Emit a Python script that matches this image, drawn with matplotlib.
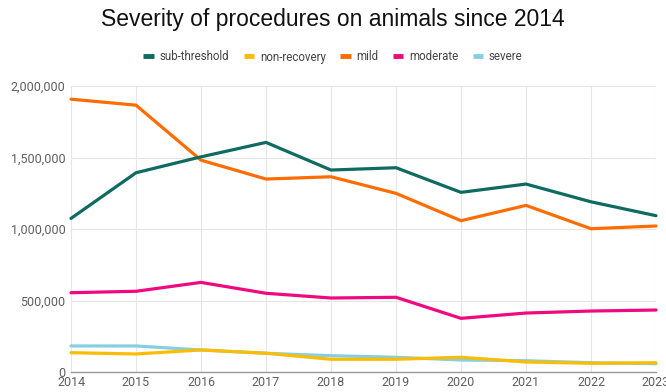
import matplotlib
matplotlib.use("Agg")
import matplotlib.pyplot as plt
from matplotlib.ticker import FuncFormatter

# Data
years = [2014, 2015, 2016, 2017, 2018, 2019, 2020, 2021, 2022, 2023]
sub_threshold = [1075000, 1394000, 1505000, 1606000, 1413000, 1429000, 1257000, 1315000, 1191000, 1094000]
non_recovery = [137000, 128000, 156000, 133000, 91000, 91000, 105000, 72000, 63000, 67000]
mild = [1908000, 1866000, 1482000, 1350000, 1366000, 1250000, 1059000, 1166000, 1003000, 1022000]
moderate = [556000, 566000, 628000, 552000, 519000, 524000, 377000, 414000, 428000, 435000]
severe = [184000, 184000, 156000, 133000, 116000, 105000, 86000, 81000, 67000, 60000]

series = [
    ("sub-threshold", sub_threshold, "#0f6b61"),
    ("non-recovery", non_recovery, "#fbbc04"),
    ("mild", mild, "#ff6d01"),
    ("moderate", moderate, "#f0087f"),
    ("severe", severe, "#84d0e2"),
]
yticks = [0, 500000, 1000000, 1500000, 2000000]

plt.rcParams['font.family'] = ['Roboto', 'DejaVu Sans']

fig = plt.figure(figsize=(6.66, 3.92), dpi=100)
ax = fig.add_axes([71 / 666, (392 - 372.3) / 392, (656 - 71) / 666, (372.3 - 86) / 392])

# draw in reverse so sub-threshold sits on top like the original
for name, vals, col in reversed(series):
    ax.plot(years, vals, color=col, lw=2.3, label=name, solid_capstyle='round',
            solid_joinstyle='round', clip_on=False)

ax.set_xlim(2014, 2023)
ax.set_ylim(0, 2000000)
ax.set_xticks(years)
ax.set_yticks(yticks)
ax.yaxis.set_major_formatter(FuncFormatter(lambda v, p: f"{int(v):,}"))
ax.grid(True, color="#e6e6e6", lw=0.8)
ax.set_axisbelow(True)
for s in ["top", "right", "left"]:
    ax.spines[s].set_visible(False)
ax.spines["bottom"].set_color("#999999")
ax.spines["bottom"].set_linewidth(1.0)
ax.tick_params(axis="both", length=0, labelsize=9, colors="#5f5f5f", pad=3)
ax.tick_params(axis="y", pad=4)

fig.text(0.5, 0.95, "Severity of procedures on animals since 2014", ha="center", va="center",
         fontsize=16.5, family=["Liberation Sans", "DejaVu Sans"], color="#111111")

handles, labels = ax.get_legend_handles_labels()
order = [4, 3, 2, 1, 0]
leg = fig.legend([handles[i] for i in order], [labels[i] for i in order],
                 loc="center", bbox_to_anchor=(0.5, 1 - 57 / 392), ncol=5, frameon=False,
                 fontsize=8.3, handlelength=0.9, handletextpad=0.5, columnspacing=1.25)
for t in leg.get_texts():
    t.set_color("#444444")
for h in leg.get_lines():
    h.set_linewidth(3.5)
    h.set_solid_capstyle('butt')

fig.savefig("out.png", dpi=100)
